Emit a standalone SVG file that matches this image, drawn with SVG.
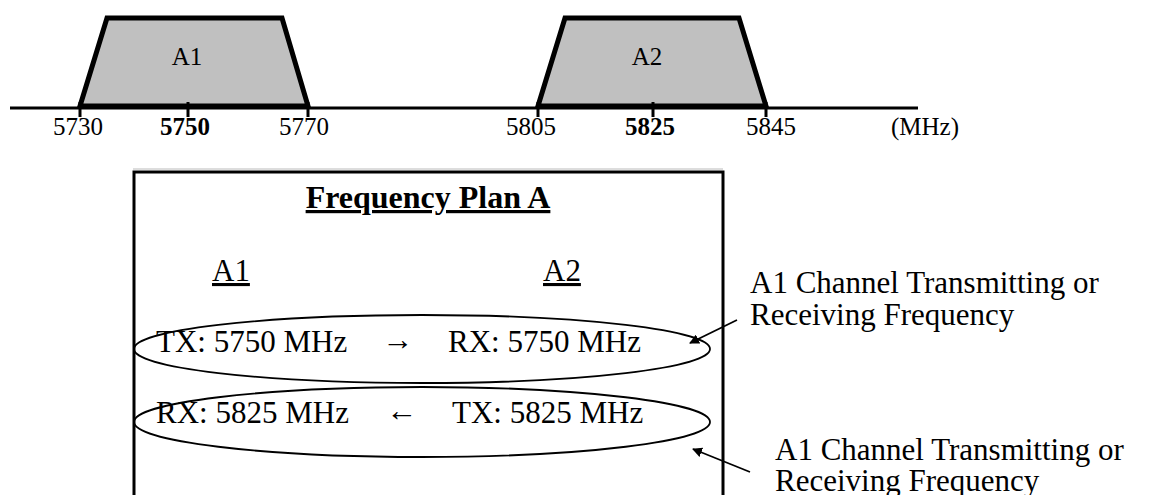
<svg xmlns="http://www.w3.org/2000/svg" width="1150" height="495" viewBox="0 0 1150 495">
<defs>
<marker id="ah" markerWidth="10" markerHeight="10" refX="9" refY="5" orient="auto" markerUnits="userSpaceOnUse">
<path d="M0,0 L10,5 L0,10 Z" fill="#000"/>
</marker>
<style>
text{font-family:"Liberation Serif","Times New Roman",serif;fill:#000}
.tick{font-size:25px;text-anchor:middle}
.b{font-weight:bold}
.band{fill:#c0c0c0;stroke:#000;stroke-width:5;stroke-linejoin:miter}
.t{font-size:31px}
.ell{fill:none;stroke:#000;stroke-width:1.8}
.lead{stroke:#000;stroke-width:1.8;fill:none;marker-end:url(#ah)}
</style>
</defs>
<rect width="1150" height="495" fill="#fff"/>
<g id="spectrum">
<line x1="10" y1="108" x2="918" y2="108" stroke="#000" stroke-width="3"/>
<polygon class="band" points="80,106 107,18 282,18 308,106"/>
<polygon class="band" points="538,106 565,18 739,18 766,106"/>
<g stroke="#000" stroke-width="3">
<line x1="80" y1="102" x2="80" y2="117"/>
<line x1="188" y1="102" x2="188" y2="117"/>
<line x1="308" y1="102" x2="308" y2="117"/>
<line x1="538" y1="102" x2="538" y2="117"/>
<line x1="653" y1="102" x2="653" y2="117"/>
<line x1="766" y1="102" x2="766" y2="117"/>
</g>
<text x="187" y="65" font-size="25" text-anchor="middle">A1</text>
<text x="647" y="65" font-size="25" text-anchor="middle">A2</text>
<text class="tick" x="78" y="135">5730</text>
<text class="tick b" x="185" y="135">5750</text>
<text class="tick" x="304" y="135">5770</text>
<text class="tick" x="531" y="135">5805</text>
<text class="tick b" x="650" y="135">5825</text>
<text class="tick" x="771" y="135">5845</text>
<text x="891" y="135" font-size="25">(MHz)</text>
</g>
<g id="plan-box">
<line x1="133" y1="169" x2="723" y2="169" stroke="#bbb" stroke-width="1"/>
<rect x="134" y="172" width="589" height="340" fill="none" stroke="#000" stroke-width="3"/>
<text x="428" y="208" font-size="32" class="b" text-anchor="middle" text-decoration="underline">Frequency Plan A</text>
<text class="t" x="212" y="281" text-decoration="underline">A1</text>
<text class="t" x="543" y="281" text-decoration="underline">A2</text>
</g>
<g id="row-tx">
<ellipse class="ell" cx="422" cy="349" rx="288" ry="34"/>
<text class="t" x="156" y="352">TX: 5750 MHz</text>
<text class="t" x="398" y="350" text-anchor="middle">→</text>
<text class="t" x="448" y="352">RX: 5750 MHz</text>
</g>
<g id="row-rx">
<ellipse class="ell" cx="422" cy="422" rx="288" ry="35"/>
<text class="t" x="156" y="423">RX: 5825 MHz</text>
<text class="t" x="402" y="421" text-anchor="middle">←</text>
<text class="t" x="452" y="423">TX: 5825 MHz</text>
</g>
<g id="label-1">
<text class="t" x="750" y="293">A1 Channel Transmitting or</text>
<text class="t" x="750" y="325">Receiving Frequency</text>
</g>
<g id="label-2">
<text class="t" x="775" y="460">A1 Channel Transmitting or</text>
<text class="t" x="775" y="491">Receiving Frequency</text>
</g>
<g id="connectors">
<line class="lead" x1="737" y1="320" x2="690" y2="343"/>
<line class="lead" x1="750" y1="472" x2="693" y2="449"/>
</g>
</svg>
